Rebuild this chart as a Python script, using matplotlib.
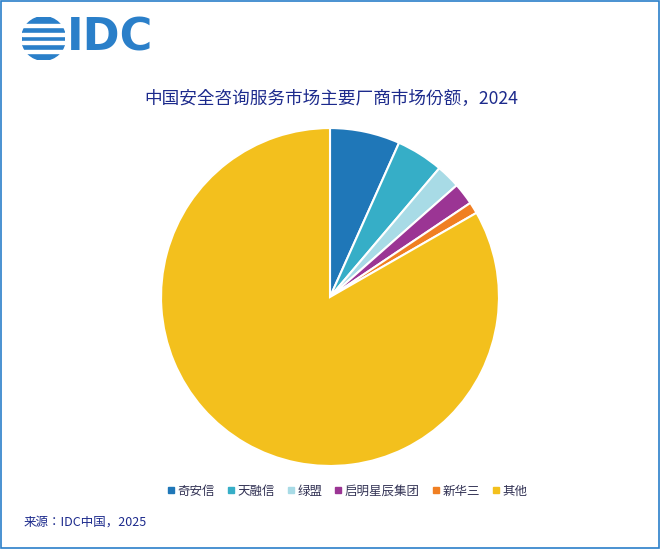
import matplotlib.pyplot as plt
from matplotlib.patches import Rectangle, Circle

plt.rcParams['font.family'] = ['Noto Sans CJK SC', 'Noto Sans CJK JP', 'DejaVu Sans']

vendors = ['奇安信', '天融信', '绿盟', '启明星辰集团', '新华三', '其他']
shares = [6.7, 4.5, 2.3, 2.1, 1.1, 83.3]
colors = ['#1f77b8', '#36aec7', '#a8dbe6', '#9b3594', '#f07f22', '#f3c01d']

fig = plt.figure(figsize=(6.6, 5.49), dpi=100)
fig.patches.append(Rectangle((0.002, 0.002), 0.996, 0.996, transform=fig.transFigure,
                             fill=False, edgecolor='#2a7fc9', linewidth=1.2))

# logo
lax = fig.add_axes([0.033, 0.89, 0.066, 0.08])
lax.set_xlim(-1, 1); lax.set_ylim(-1, 1); lax.set_aspect('equal'); lax.axis('off')
lax.add_patch(Circle((0, 0), 1, color='#2a7fc9'))
for yy in [-0.6, -0.2, 0.2, 0.6]:
    lax.axhspan(yy - 0.07, yy + 0.07, color='white')
fig.text(0.102, 0.93, 'IDC', fontsize=32, fontweight='bold', color='#2a7fc9',
         va='center', ha='left', family='DejaVu Sans')

fig.text(0.502, 0.82, '中国安全咨询服务市场主要厂商市场份额，2024', ha='center', va='center',
         fontsize=12.7, color='#1c2a8c')

ax = fig.add_axes([0.5 - 0.256, 0.151, 0.512, 0.616])
ax.pie(shares, colors=colors, startangle=90, counterclock=False,
       wedgeprops=dict(edgecolor='white', linewidth=1.5))
ax.set_xlim(-1, 1); ax.set_ylim(-1, 1)
ax.set_aspect('equal')

handles = [plt.Line2D([], [], marker='s', linestyle='', color=c, markersize=4) for c in colors]
fig.legend(handles, vendors, loc='center', bbox_to_anchor=(0.525, 0.105), ncol=6,
           frameon=False, fontsize=9, handletextpad=0.1, columnspacing=0.9,
           handlelength=0.8, labelcolor='#333355')

fig.text(0.035, 0.048, '来源：IDC中国，2025', fontsize=9, color='#1c2a8c', va='center')

fig.savefig('out.png', dpi=100)
